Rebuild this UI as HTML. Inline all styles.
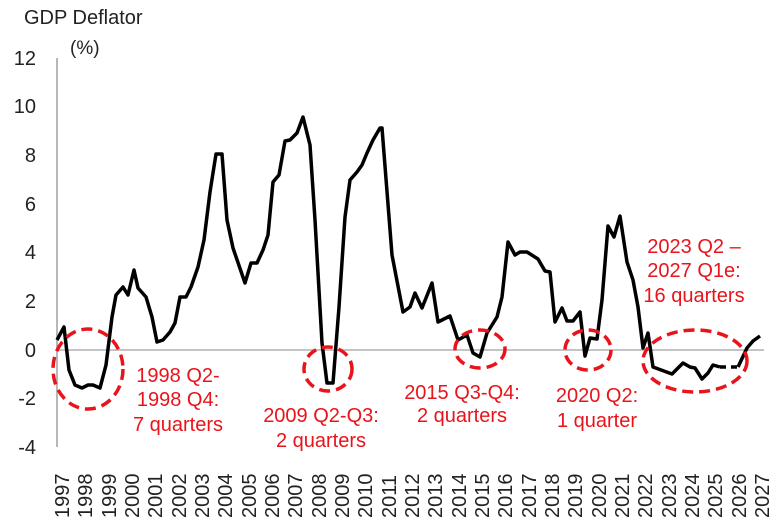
<!DOCTYPE html>
<html><head><style>
body{margin:0;background:#fff}
svg text{font-family:"Liberation Sans",sans-serif}
</style></head><body>
<svg width="784" height="523" viewBox="0 0 784 523" xmlns="http://www.w3.org/2000/svg">
<rect width="784" height="523" fill="#fff"/>
<text x="24" y="24" font-size="20" fill="#222">GDP Deflator</text>
<text x="70" y="54" font-size="19" fill="#222">(%)</text>
<g font-size="20" fill="#222" text-anchor="end">
<text x="36" y="65">12</text><text x="36" y="113">10</text><text x="36" y="162">8</text>
<text x="36" y="211">6</text><text x="36" y="259">4</text><text x="36" y="308">2</text>
<text x="36" y="357">0</text><text x="36" y="405">-2</text><text x="36" y="454">-4</text>
</g>
<line x1="57" y1="58" x2="57" y2="447" stroke="#a0a0a0" stroke-width="1.5"/>
<line x1="57" y1="350" x2="764" y2="350" stroke="#b0b0b0" stroke-width="1.5"/>
<polyline fill="none" stroke="#000" stroke-width="3.5" stroke-linejoin="round" points="57,340 64,327 69,370 75,385 82,388 88,385 93,385 100,388 106,365 112,317 116,295 123,287 128,295 134,270 138,288 146,297 152,317 157,342 163,340 170,332 175,323 180,297 186,297 191,287 198,267 204,240 210,192 216,154 222,154 227,220 233,248 245,283 251,263 257,263 263,250 268,235 273,182 279,175 285,141 290,140 297,133 303,117 310,145 315,220 322,343 327,383 333,383 339,307 345,217 350,180 357,172 362,165 367,153 373,140 380,128 382,128 392,255 403,312 410,307 415,293 422,308 432,283 438,322 450,316 458,340 467,335 473,353 480,357 487,333 497,317 502,297 508,242 515,255 520,252 527,252 538,259 545,271 550,272 555,322 562,308 567,321 573,321 580,312 585,356 590,338 597,339 602,300 608,226 614,237 620,216 627,262 633,280 638,307 643,348 648,333 653,367 672,374 683,363 690,367 695,368 702,379 708,373 713,365 720,367"/>
<polyline fill="none" stroke="#000" stroke-width="3.5" stroke-dasharray="6,5" points="720,367 738,367"/>
<polyline fill="none" stroke="#000" stroke-width="3.5" stroke-linejoin="round" points="738,367 747,348 753,341 760,336"/>
<g fill="none" stroke="#e8141c" stroke-width="3.5" stroke-dasharray="11,6">
<ellipse cx="88" cy="369" rx="35" ry="40"/>
<ellipse cx="328" cy="369" rx="24" ry="22"/>
<ellipse cx="480" cy="349" rx="25" ry="19"/>
<ellipse cx="588" cy="350" rx="23" ry="20"/>
<ellipse cx="695" cy="361" rx="52" ry="31"/>
</g>
<g font-size="20" fill="#e8141c" text-anchor="middle">
<text x="178" y="382">1998 Q2-</text><text x="178" y="406">1998 Q4:</text><text x="178" y="431">7 quarters</text>
<text x="321" y="422">2009 Q2-Q3:</text><text x="321" y="447">2 quarters</text>
<text x="462" y="399">2015 Q3-Q4:</text><text x="462" y="422">2 quarters</text>
<text x="597" y="402">2020 Q2:</text><text x="597" y="427">1 quarter</text>
<text x="694" y="253">2023 Q2 –</text><text x="694" y="277">2027 Q1e:</text><text x="694" y="302">16 quarters</text>
</g>
<g font-size="20" fill="#222">
<text transform="translate(69,518) rotate(-90)">1997</text>
<text transform="translate(92,518) rotate(-90)">1998</text>
<text transform="translate(116,518) rotate(-90)">1999</text>
<text transform="translate(139,518) rotate(-90)">2000</text>
<text transform="translate(162,518) rotate(-90)">2001</text>
<text transform="translate(186,518) rotate(-90)">2002</text>
<text transform="translate(209,518) rotate(-90)">2003</text>
<text transform="translate(232,518) rotate(-90)">2004</text>
<text transform="translate(256,518) rotate(-90)">2005</text>
<text transform="translate(279,518) rotate(-90)">2006</text>
<text transform="translate(302,518) rotate(-90)">2007</text>
<text transform="translate(326,518) rotate(-90)">2008</text>
<text transform="translate(349,518) rotate(-90)">2009</text>
<text transform="translate(372,518) rotate(-90)">2010</text>
<text transform="translate(396,518) rotate(-90)">2011</text>
<text transform="translate(419,518) rotate(-90)">2012</text>
<text transform="translate(442,518) rotate(-90)">2013</text>
<text transform="translate(466,518) rotate(-90)">2014</text>
<text transform="translate(489,518) rotate(-90)">2015</text>
<text transform="translate(512,518) rotate(-90)">2016</text>
<text transform="translate(536,518) rotate(-90)">2017</text>
<text transform="translate(559,518) rotate(-90)">2018</text>
<text transform="translate(582,518) rotate(-90)">2019</text>
<text transform="translate(606,518) rotate(-90)">2020</text>
<text transform="translate(629,518) rotate(-90)">2021</text>
<text transform="translate(652,518) rotate(-90)">2022</text>
<text transform="translate(676,518) rotate(-90)">2023</text>
<text transform="translate(699,518) rotate(-90)">2024</text>
<text transform="translate(722,518) rotate(-90)">2025</text>
<text transform="translate(746,518) rotate(-90)">2026</text>
<text transform="translate(769,518) rotate(-90)">2027</text>
</g>
</svg>
</body></html>
